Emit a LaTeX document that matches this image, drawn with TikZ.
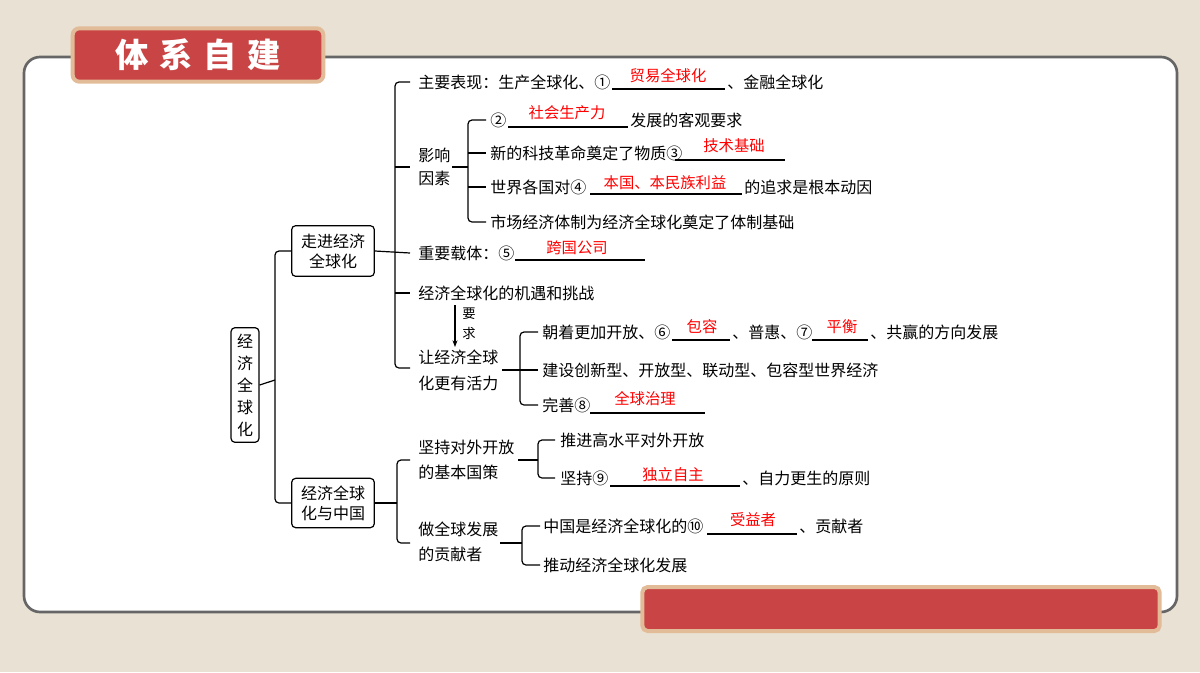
\documentclass[tikz,border=0pt]{standalone}
\usepackage{fontspec}
\setmainfont{Noto Sans CJK SC}
\usetikzlibrary{arrows.meta}
\definecolor{bg}{HTML}{E9E1D3}
\definecolor{tred}{HTML}{C94444}
\definecolor{tan}{HTML}{E2BC98}
\begin{document}
\begin{tikzpicture}[x=0.75pt,y=-0.75pt,
  t/.style={anchor=west,inner sep=0,font=\fontsize{12}{12}\selectfont},
  ans/.style={inner sep=0,text=red,font=\fontsize{11.5}{12}\selectfont},
  ul/.style={line width=0.8pt},
  tree/.style={line width=0.9pt,rounded corners=3pt},
  bx/.style={draw,line width=0.9pt,rounded corners=3pt,align=center,inner sep=0,font=\fontsize{12}{15}\selectfont}]
\useasboundingbox (0,0) rectangle (1200,672);
\fill[bg] (0,0) rectangle (1200,672);
\draw[gray!80!black,line width=2pt,fill=white,rounded corners=12pt] (24,57) rectangle (1177,612);
\node[draw=tan,line width=3pt,fill=tred,rounded corners=5pt,minimum width=188pt,minimum height=40pt,text=white,font=\fontsize{25}{25}\selectfont\bfseries] (title) at (198,55) {体\hspace{8pt}系\hspace{8pt}自\hspace{8pt}建};
\node[draw=tan,line width=3pt,fill=tred,rounded corners=4pt,minimum width=388pt,minimum height=33pt] (foot) at (901,609) {};
% root and boxes
\node[bx,minimum width=21pt,minimum height=86pt,font=\fontsize{12}{16.5}\selectfont] (root) at (245,385) {经\\济\\全\\球\\化};
\node[bx,minimum width=62pt,minimum height=38pt] (b1) at (333,251) {走进经济\\全球化};
\node[bx,minimum width=62pt,minimum height=37pt] (b2) at (333,503) {经济全球\\化与中国};
\draw[tree] (b1.west) -- (275,251) -- (275,503) -- (b2.west);
\draw[tree] (root.east) -- (275,380);
% branch 1 texts
\node[t] (m1) at (418,82) {主要表现：生产全球化、①};
\node[ans] (a1) at (668,76) {贸易全球化};
\node[t] (m1b) at (727,82) {、金融全球化};
\node[t,align=left,font=\fontsize{12}{17}\selectfont] (m2) at (418,167) {影响\\因素};
\node[t] (m3) at (418,253) {重要载体：⑤};
\node[ans] (a5) at (577,248) {跨国公司};
\node[t] (m4) at (418,293) {经济全球化的机遇和挑战};
\node[t,align=left,font=\fontsize{12}{19.5}\selectfont] (m5) at (418,370) {让经济全球\\化更有活力};
\draw[ul] (612,89) -- (725,89);
\draw[ul] (515,260) -- (645,260);
\draw[tree] (410,82) -- (395,82) -- (395,368) -- (410,368);
\draw[tree] (b1.east) -- (410,253);
\draw[tree] (395,167) -- (410,167);
\draw[tree] (395,293) -- (410,293);
\node[inner sep=0,align=center,font=\fontsize{10}{15}\selectfont] (yq) at (469,324) {要\\求};
\draw[-{Stealth[length=5pt]},line width=0.8pt] (455,305) -- (455,347);
% influence factors
\draw[tree] (452,167) -- (468,167);
\draw[tree] (486,120) -- (468,120) -- (468,222) -- (486,222);
\draw[tree] (468,153) -- (486,153);
\draw[tree] (468,187) -- (486,187);
\node[t] (f1) at (490,120) {②};
\draw[ul] (508,127) -- (628,127);
\node[ans] (a2) at (567,113) {社会生产力};
\node[t] (f1b) at (630,120) {发展的客观要求};
\node[t] (f2) at (490,153) {新的科技革命奠定了物质③};
\draw[ul] (675,160) -- (785,160);
\node[ans] (a3) at (734,146) {技术基础};
\node[t] (f3) at (490,187) {世界各国对④};
\draw[ul] (590,194) -- (742,194);
\node[ans] (a4) at (665,183) {本国、本民族利益};
\node[t] (f3b) at (744,187) {的追求是根本动因};
\node[t] (f4) at (490,222) {市场经济体制为经济全球化奠定了体制基础};
% vitality
\draw[tree] (502,370) -- (520,370);
\draw[tree] (538,332) -- (520,332) -- (520,405) -- (538,405);
\draw[tree] (520,370) -- (538,370);
\node[t] (v1) at (542,332) {朝着更加开放、⑥};
\draw[ul] (672,340) -- (730,340);
\node[ans] (a6) at (702,327) {包容};
\node[t] (v1b) at (732,332) {、普惠、⑦};
\draw[ul] (812,340) -- (868,340);
\node[ans] (a7) at (842,327) {平衡};
\node[t] (v1c) at (870,332) {、共赢的方向发展};
\node[t] (v2) at (542,370) {建设创新型、开放型、联动型、包容型世界经济};
\node[t] (v3) at (542,405) {完善⑧};
\draw[ul] (590,413) -- (705,413);
\node[ans] (a8) at (645,399) {全球治理};
% branch 2
\draw[tree] (410,460) -- (397,460) -- (397,543) -- (410,543);
\draw[tree] (b2.east) -- (397,503);
\node[t,align=left,font=\fontsize{12}{19}\selectfont] (c1) at (418,460) {坚持对外开放\\的基本国策};
\node[t,align=left,font=\fontsize{12}{19}\selectfont] (c2) at (418,542) {做全球发展\\的贡献者};
\draw[tree] (518,460) -- (538,460);
\draw[tree] (555,440) -- (538,440) -- (538,478) -- (555,478);
\node[t] (d1) at (560,440) {推进高水平对外开放};
\node[t] (d2) at (560,478) {坚持⑨};
\draw[ul] (610,486) -- (740,486);
\node[ans] (a9) at (673,475) {独立自主};
\node[t] (d2b) at (742,478) {、自力更生的原则};
\draw[tree] (500,543) -- (522,543);
\draw[tree] (540,526) -- (522,526) -- (522,565) -- (540,565);
\node[t] (e1) at (543,526) {中国是经济全球化的⑩};
\draw[ul] (707,534) -- (797,534);
\node[ans] (a10) at (753,520) {受益者};
\node[t] (e1b) at (799,526) {、贡献者};
\node[t] (e2) at (543,565) {推动经济全球化发展};
\end{tikzpicture}
\end{document}
